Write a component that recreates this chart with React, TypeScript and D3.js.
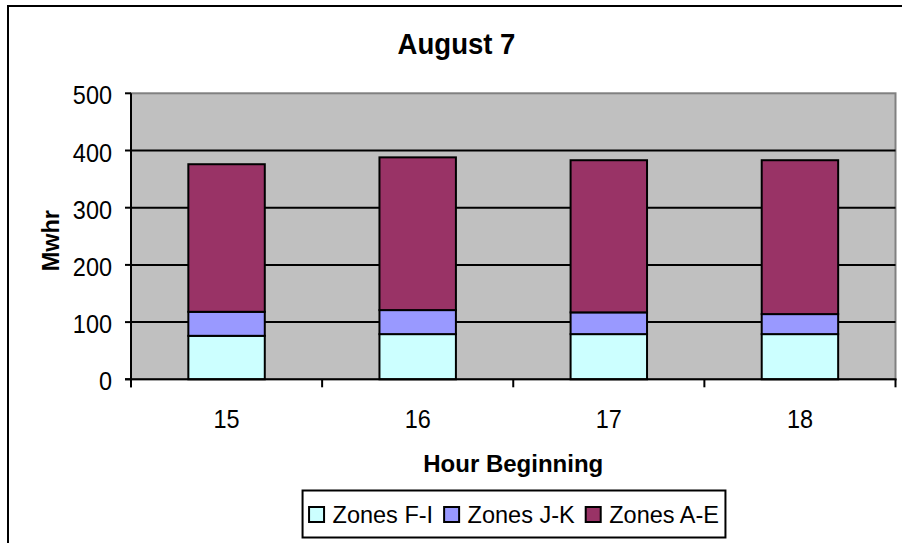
import React, { useEffect, useRef } from "react";
import * as d3 from "d3";

const categories = ["15", "16", "17", "18"];
const zonesFI = [76, 79, 79, 79];
const zonesJK = [42, 42, 38, 35];
const zonesAE = [258, 267, 266, 269];
const yTicks = [0, 100, 200, 300, 400, 500];
const seriesNames = ["Zones F-I", "Zones J-K", "Zones A-E"];
const seriesColors = ["#CCFFFF", "#9999FF", "#993366"];

const W = 902;
const H = 543;
const FONT = "'Liberation Sans', Arial, Helvetica, sans-serif";

export default function App() {
  const ref = useRef<SVGSVGElement | null>(null);

  useEffect(() => {
    const svg = d3.select(ref.current);
    svg.selectAll("*").remove();

    const left = 131, right = 895.5, top = 93.3, bottom = 379.3;

    const x = d3.scaleBand<string>().domain(categories).range([left, right]).paddingInner(0.6).paddingOuter(0.3);
    const y = d3.scaleLinear().domain([0, 500]).range([bottom, top]);

    const rows = categories.map((c, i) => ({ cat: c, fi: zonesFI[i], jk: zonesJK[i], ae: zonesAE[i] }));
    const keys = ["fi", "jk", "ae"];
    const stacked = d3.stack<any>().keys(keys)(rows);

    // chart frame
    svg.append("rect").attr("x", 8).attr("y", 6).attr("width", 905).attr("height", 560)
      .attr("fill", "#fff").attr("stroke", "#000").attr("stroke-width", 2);

    // plot area
    svg.append("rect").attr("x", left).attr("y", top).attr("width", right - left).attr("height", bottom - top)
      .attr("fill", "#C0C0C0").attr("stroke", "#808080").attr("stroke-width", 2);

    // gridlines
    svg.append("g").selectAll("line").data(yTicks.filter(t => t > 0 && t < 500)).join("line")
      .attr("x1", left).attr("x2", right).attr("y1", d => y(d)).attr("y2", d => y(d))
      .attr("stroke", "#000").attr("stroke-width", 2);

    // bars
    svg.append("g").selectAll("g").data(stacked).join("g")
      .attr("fill", (_d, i) => seriesColors[i])
      .selectAll("rect").data(d => d).join("rect")
      .attr("x", d => x(d.data.cat)!)
      .attr("width", x.bandwidth())
      .attr("y", d => y(d[1]))
      .attr("height", d => y(d[0]) - y(d[1]))
      .attr("stroke", "#000").attr("stroke-width", 2);

    // axes lines
    svg.append("line").attr("x1", left).attr("x2", left).attr("y1", top).attr("y2", bottom + 8)
      .attr("stroke", "#000").attr("stroke-width", 2);
    svg.append("line").attr("x1", left - 6).attr("x2", right + 1).attr("y1", bottom).attr("y2", bottom)
      .attr("stroke", "#000").attr("stroke-width", 2);

    // y ticks
    svg.append("g").selectAll("line").data(yTicks).join("line")
      .attr("x1", left - 6).attr("x2", left).attr("y1", d => y(d)).attr("y2", d => y(d))
      .attr("stroke", "#000").attr("stroke-width", 2);
    svg.append("g").selectAll("text").data(yTicks).join("text")
      .attr("transform", d => `translate(112,${y(d) + 11}) scale(0.92,1)`)
      .attr("text-anchor", "end").attr("font-family", FONT).attr("font-size", 25.5).attr("fill", "#000")
      .text(d => String(d));

    // x ticks at band boundaries
    const step = x.step();
    const bounds = d3.range(categories.length + 1).map(i => left + i * step);
    svg.append("g").selectAll("line").data(bounds).join("line")
      .attr("x1", d => d).attr("x2", d => d).attr("y1", bottom).attr("y2", bottom + 8)
      .attr("stroke", "#000").attr("stroke-width", 2);
    svg.append("g").selectAll("text").data(categories).join("text")
      .attr("transform", d => `translate(${x(d)! + x.bandwidth() / 2},428.3) scale(0.92,1)`)
      .attr("text-anchor", "middle").attr("font-family", FONT).attr("font-size", 25.5).attr("fill", "#000")
      .text(d => d);

    // titles
    svg.append("text").attr("transform", "translate(456.5,54) scale(0.95,1)").attr("text-anchor", "middle")
      .attr("font-family", FONT).attr("font-size", 29).attr("font-weight", "bold").text("August 7");
    svg.append("text").attr("x", (left + right) / 2).attr("y", 472).attr("text-anchor", "middle")
      .attr("font-family", FONT).attr("font-size", 24).attr("font-weight", "bold").text("Hour Beginning");
    svg.append("text").attr("transform", "translate(58.5,240.7) rotate(-90)").attr("text-anchor", "middle")
      .attr("font-family", FONT).attr("font-size", 23.5).attr("font-weight", "bold").text("Mwhr");

    // legend
    const lg = svg.append("g");
    const box = lg.append("rect").attr("fill", "#fff").attr("stroke", "#000").attr("stroke-width", 2);
    let cx = 0;
    seriesNames.forEach((name, i) => {
      const g = lg.append("g");
      g.append("rect").attr("x", cx).attr("y", 507).attr("width", 15).attr("height", 15)
        .attr("fill", seriesColors[i]).attr("stroke", "#000").attr("stroke-width", 2);
      const t = g.append("text").attr("x", cx + 23.5).attr("y", 522.5)
        .attr("font-family", FONT).attr("font-size", 23.5).attr("fill", "#000").text(name);
      const tw = (t.node() as SVGTextElement).getComputedTextLength();
      cx = cx + 23.5 + tw + 11;
    });
    const contentW = cx - 11;
    const boxW = contentW + 13;
    const boxX = 514 - boxW / 2;
    lg.selectAll("g").attr("transform", `translate(${boxX + 6.5},0)`);
    box.attr("x", boxX).attr("y", 490.5).attr("width", boxW).attr("height", 47);
  }, []);

  return (
    <svg ref={ref} width={W} height={H} style={{ position: "absolute", left: 0, top: 0, display: "block" }} />
  );
}
